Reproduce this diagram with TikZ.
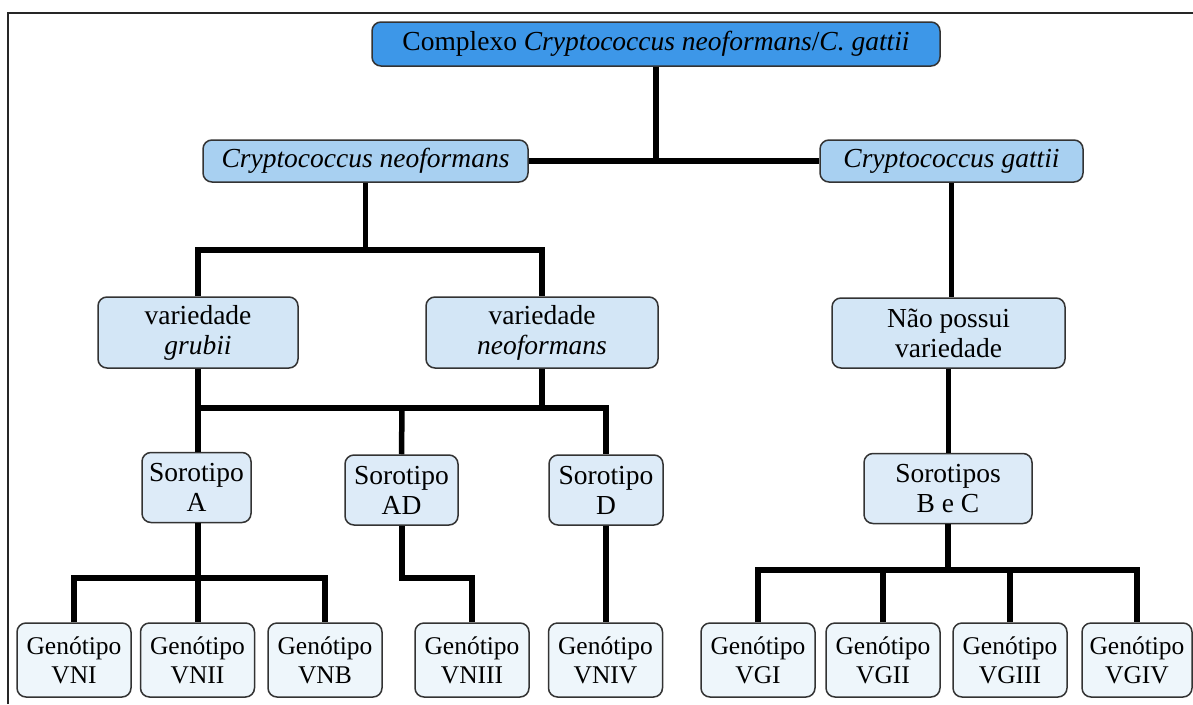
\documentclass[tikz,border=0pt]{standalone}
\usepackage{fontspec}
\setmainfont{Liberation Serif}
\definecolor{topblue}{HTML}{3D97E8}
\definecolor{lvlone}{HTML}{A8D0F1}
\definecolor{lvltwo}{HTML}{D3E6F6}
\definecolor{lvlthree}{HTML}{DDEBF8}
\definecolor{lvlfour}{HTML}{EEF6FB}
\definecolor{boxline}{HTML}{333333}
\tikzset{
  bx/.style={draw=boxline, line width=1.5pt, rounded corners=9pt, inner sep=0pt,
    align=center, font=\fontsize{27.5}{30}\selectfont},
  gbx/.style={bx, minimum width=114pt, minimum height=74pt, fill=lvlfour,
    font=\fontsize{25.5}{29}\selectfont},
  conn/.style={line width=5.5pt, black, line join=miter},
}
\begin{document}
\begin{tikzpicture}[x=1pt,y=-1pt]
\useasboundingbox (0,0) rectangle (1193,704);
\draw[line width=2pt, black!85] (8,704) -- (8,13) -- (1193,13);
% nodes
\node[bx, fill=topblue, minimum width=568pt, minimum height=44pt] (top) at (656,44)
  {Complexo \textit{Cryptococcus neoformans}/\textit{C. gattii}};
\node[bx, fill=lvlone, minimum width=325pt, minimum height=42pt] (cnf) at (365.5,161)
  {\textit{Cryptococcus neoformans}};
\node[bx, fill=lvlone, minimum width=263pt, minimum height=42pt] (cg) at (951.5,161)
  {\textit{Cryptococcus gattii}};
\node[bx, fill=lvltwo, minimum width=200pt, minimum height=71pt] (vg) at (198,332.5)
  {variedade\\\textit{grubii}};
\node[bx, fill=lvltwo, minimum width=232pt, minimum height=71pt] (vn) at (542,332.5)
  {variedade\\\textit{neoformans}};
\node[bx, fill=lvltwo, minimum width=233pt, minimum height=70pt] (np) at (948.5,333)
  {Não possui\\variedade};
\node[bx, fill=lvlthree, minimum width=109pt, minimum height=70pt] (sa) at (196.5,487.5)
  {Sorotipo\\A};
\node[bx, fill=lvlthree, minimum width=113pt, minimum height=70pt] (sad) at (401.5,490)
  {Sorotipo\\AD};
\node[bx, fill=lvlthree, minimum width=114pt, minimum height=70pt] (sd) at (606,490)
  {Sorotipo\\D};
\node[bx, fill=lvlthree, minimum width=168pt, minimum height=70pt] (sbc) at (948,488.5)
  {Sorotipos\\B e C};
\node[gbx] (g1) at (74,660) {Genótipo\\VNI};
\node[gbx] (g2) at (197.5,660) {Genótipo\\VNII};
\node[gbx] (g3) at (325,660) {Genótipo\\VNB};
\node[gbx] (g4) at (472,660) {Genótipo\\VNIII};
\node[gbx] (g5) at (605.5,660) {Genótipo\\VNIV};
\node[gbx] (g6) at (758,660) {Genótipo\\VGI};
\node[gbx] (g7) at (883,660) {Genótipo\\VGII};
\node[gbx] (g8) at (1010,660) {Genótipo\\VGIII};
\node[gbx, minimum width=110pt] (g9) at (1137,660) {Genótipo\\VGIV};
% junction points
\coordinate (b1) at (365.5,250);
\coordinate (b2) at (402,408);
\coordinate (b3) at (198,578);
\coordinate (b4) at (402,578);
\coordinate (b5) at (948,570);
% connectors
\draw[conn] (top.south) -- (top.south |- cnf.east);
\draw[conn] (cnf.east) -- (cg.west);
\draw[conn] (cnf.south) -- (b1);
\draw[conn] (vg.north) |- (b1) -| (vn.north);
\draw[conn] (cg.south) -- (cg.south |- np.north);
\draw[conn] (vg.south) |- (b2) -| (sd.north);
\draw[conn] (vn.south) -- (vn.south |- b2);
\draw[conn] (b2) -- (sad.north);
\draw[conn] (vg.south |- sa.north) -- (vg.south);
\draw[conn] (np.south) -- (np.south |- sbc.north);
\draw[conn] (sa.south -| b3) -- (b3 |- g2.north);
\draw[conn] (g1.north) |- (b3) -| (g3.north);
\draw[conn] (sad.south -| b4) -- (b4) -| (g4.north);
\draw[conn] (sd.south) -- (sd.south |- g5.north);
\draw[conn] (sbc.south) -- (b5);
\draw[conn] (g6.north) |- (b5) -| (g9.north);
\draw[conn] (g7.north) -- (g7.north |- b5);
\draw[conn] (g8.north) -- (g8.north |- b5);
\end{tikzpicture}
\end{document}
